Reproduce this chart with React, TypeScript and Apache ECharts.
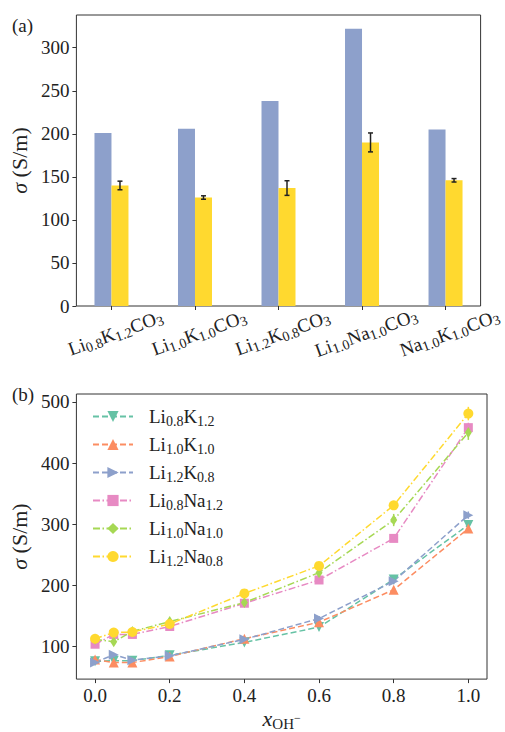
import React, { useEffect, useRef } from 'react';
import * as echarts from 'echarts';

// ---------- Data: panel (a) ----------
const categories = ['Li0.8K1.2CO3', 'Li1.0K1.0CO3', 'Li1.2K0.8CO3', 'Li1.0Na1.0CO3', 'Na1.0K1.0CO3'];
const barBlue = [201, 206, 238, 322, 205];
const barYellow = [140, 126, 137, 190, 146];
const barYellowErr = [5, 2, 8.5, 11, 2];
const yTicksA = [0, 50, 100, 150, 200, 250, 300];

// ---------- Data: panel (b) ----------
const xOH = [0, 0.05, 0.1, 0.2, 0.4, 0.6, 0.8, 1.0];
const seriesNames = ['Li0.8K1.2', 'Li1.0K1.0', 'Li1.2K0.8', 'Li0.8Na1.2', 'Li1.0Na1.0', 'Li1.2Na0.8'];
const sLi08K12 = [76, 77, 77, 86, 107, 132, 210, 299];
const sLi10K10 = [79, 74, 74, 84, 113, 140, 193, 293];
const sLi12K08 = [74, 87, 78, 85, 112, 146, 207, 315];
const sLi08Na12 = [104, 120, 120, 133, 171, 209, 277, 458];
const sLi10Na10 = [112, 108, 125, 141, 172, 221, 307, 450];
const sLi12Na08 = [113, 123, 124, 137, 187, 232, 331, 481];
const eLi08K12 = [3, 3, 3, 3, 4, 5, 5, 8];
const eLi10K10 = [3, 3, 3, 3, 3, 4, 5, 7];
const eLi12K08 = [3, 3, 3, 3, 3, 4, 5, 6];
const eLi08Na12 = [4, 3, 3, 3, 4, 4, 5, 8];
const eLi10Na10 = [5, 5, 4, 4, 6, 10, 10, 12];
const eLi12Na08 = [6, 4, 4, 4, 5, 6, 7, 11];
const xTicksB = [0, 0.2, 0.4, 0.6, 0.8, 1.0];
const yTicksB = [100, 200, 300, 400, 500];

const seriesValues = [sLi08K12, sLi10K10, sLi12K08, sLi08Na12, sLi10Na10, sLi12Na08];
const seriesErrs = [eLi08K12, eLi10K10, eLi12K08, eLi08Na12, eLi10Na10, eLi12Na08];

// ---------- Styles ----------
const FONT = 'Liberation Serif';
const COLORS = ['#66c2a5', '#fc8d62', '#8da0cb', '#e78ac3', '#a6d854', '#ffd92f'];
const SYMBOLS = ['triangle', 'triangle', 'triangle', 'rect', 'diamond', 'circle'];
const SYMROT = [180, 0, -90, 0, 0, 0];
const SYMSIZE: any[] = [10, 10, 10, 9, [7, 11], 10];
const DASH = [6, 3];
const DASHDOT = [7, 2.5, 1.5, 2.5];
const LSTYLE = [DASH, DASH, DASH, DASHDOT, DASHDOT, DASHDOT];
const FRAME = '#333333';
const TXT = '#222222';

const toRich = (s: string) => '{n|' + s.replace(/(\d+(?:\.\d+)?)/g, '}{s|$1}{n|') + '}';

const richText = (size: number, sub: number) => ({
  n: { fontFamily: FONT, fontSize: size, lineHeight: size + 4, color: TXT },
  s: { fontFamily: FONT, fontSize: sub, lineHeight: sub, padding: [9, 0, 0, 0], color: TXT },
});

export default function App() {
  const ref = useRef<HTMLDivElement>(null);
  useEffect(() => {
    if (!ref.current) return;
    const chart = echarts.init(ref.current, undefined, { renderer: 'svg' });

    const errDataB: any[] = [];
    seriesValues.forEach((vals, si) => {
      vals.forEach((v, i) => errDataB.push([xOH[i], v, seriesErrs[si][i], si]));
    });

    const yName = {
      name: '{i|\u03c3} (S/m)', nameLocation: 'middle', nameGap: 42, nameRotate: 90,
      nameTextStyle: {
        rich: { i: { fontFamily: FONT, fontStyle: 'italic', fontSize: 22, color: TXT } },
        fontFamily: FONT, fontSize: 22, color: TXT,
      },
    };

    const option: any = {
      animation: false,
      backgroundColor: '#ffffff',
      textStyle: { fontFamily: FONT },
      grid: [
        { left: 74, right: 18, top: 15, height: 291, show: true, borderColor: FRAME, borderWidth: 1, backgroundColor: 'transparent' },
        { left: 75, right: 18, top: 394, height: 291, show: true, borderColor: FRAME, borderWidth: 1, backgroundColor: 'transparent' },
      ],
      xAxis: [
        {
          type: 'value', gridIndex: 0, min: -0.42, max: 4.42,
          axisLine: { show: false, onZero: false }, splitLine: { show: false },
          axisTick: { show: true, length: 4, lineStyle: { color: FRAME }, customValues: categories.map((_, i) => i) },
          axisLabel: {
            customValues: categories.map((_, i) => i),
            formatter: (v: number) => toRich(categories[Math.round(v)]),
            rotate: 20, align: 'center', verticalAlign: 'top', margin: 16,
            rich: richText(19, 14),
          },
        },
        {
          type: 'value', gridIndex: 1, min: -0.05, max: 1.05,
          axisLine: { show: false, onZero: false }, splitLine: { show: false },
          axisTick: { show: true, length: 4, lineStyle: { color: FRAME }, customValues: xTicksB },
          axisLabel: {
            customValues: xTicksB, formatter: (v: number) => v.toFixed(1),
            fontFamily: FONT, fontSize: 19, color: TXT, margin: 7,
          },
          name: '{i|x}{s|OH}{p|\u2212}', nameLocation: 'middle', nameGap: 26,
          nameTextStyle: {
            rich: {
              i: { fontFamily: FONT, fontStyle: 'italic', fontSize: 22, lineHeight: 22, color: TXT },
              s: { fontFamily: FONT, fontSize: 15, lineHeight: 15, padding: [10, 0, 0, 0], color: TXT },
              p: { fontFamily: FONT, fontSize: 12, lineHeight: 12, padding: [0, 0, 2, 0], color: TXT },
            },
          },
        },
      ],
      yAxis: [
        {
          type: 'value', gridIndex: 0, min: 0, max: 338,
          axisLine: { show: false, onZero: false }, splitLine: { show: false },
          axisTick: { show: true, length: 4, lineStyle: { color: FRAME }, customValues: yTicksA },
          axisLabel: { customValues: yTicksA, fontFamily: FONT, fontSize: 19, color: TXT, margin: 7 },
          ...yName,
        },
        {
          type: 'value', gridIndex: 1, min: 47, max: 513,
          axisLine: { show: false, onZero: false }, splitLine: { show: false },
          axisTick: { show: true, length: 4, lineStyle: { color: FRAME }, customValues: yTicksB },
          axisLabel: { customValues: yTicksB, fontFamily: FONT, fontSize: 19, color: TXT, margin: 7 },
          ...yName,
        },
      ],
      legend: {
        orient: 'vertical', left: 92, top: 405, padding: 0, itemWidth: 40, itemHeight: 14, itemGap: 5,
        data: seriesNames,
        formatter: (name: string) => '{g|}' + toRich(name),
        textStyle: {
          rich: {
            g: { width: 11 },
            ...richText(19, 14),
          },
        },
      },
      graphic: [
        { type: 'text', left: 12, top: 16, style: { text: '(a)', fontFamily: FONT, fontSize: 19, fill: TXT } },
        { type: 'text', left: 12, top: 385, style: { text: '(b)', fontFamily: FONT, fontSize: 19, fill: TXT } },
      ],
      series: [
        {
          type: 'bar', xAxisIndex: 0, yAxisIndex: 0, barWidth: 17, barGap: '0%',
          itemStyle: { color: '#8da0cb' },
          data: barBlue.map((v, i) => [i, v]),
        },
        {
          type: 'bar', xAxisIndex: 0, yAxisIndex: 0, barWidth: 17, barGap: '0%',
          itemStyle: { color: '#ffd92f' },
          data: barYellow.map((v, i) => [i, v]),
        },
        {
          type: 'custom', xAxisIndex: 0, yAxisIndex: 0, z: 5,
          data: barYellow.map((v, i) => [i, v, barYellowErr[i]]),
          renderItem: (params: any, api: any) => {
            const x = api.value(0), y = api.value(1), e = api.value(2);
            const lo = api.coord([x, y - e]);
            const hi = api.coord([x, y + e]);
            const cx = lo[0] + 8.5;
            const st = { stroke: '#222', lineWidth: 1.5 };
            return {
              type: 'group',
              children: [
                { type: 'line', shape: { x1: cx, y1: lo[1], x2: cx, y2: hi[1] }, style: st },
                { type: 'line', shape: { x1: cx - 2.5, y1: lo[1], x2: cx + 2.5, y2: lo[1] }, style: st },
                { type: 'line', shape: { x1: cx - 2.5, y1: hi[1], x2: cx + 2.5, y2: hi[1] }, style: st },
              ],
            };
          },
        },
        {
          type: 'custom', xAxisIndex: 1, yAxisIndex: 1, z: 1,
          data: errDataB,
          renderItem: (params: any, api: any) => {
            const x = api.value(0), y = api.value(1), e = api.value(2), si = api.value(3);
            const lo = api.coord([x, y - e]);
            const hi = api.coord([x, y + e]);
            return {
              type: 'line',
              shape: { x1: lo[0], y1: lo[1], x2: hi[0], y2: hi[1] },
              style: { stroke: COLORS[si], lineWidth: 1.5 },
            };
          },
        },
        ...seriesNames.map((name, si) => ({
          type: 'line', name, xAxisIndex: 1, yAxisIndex: 1, z: 3,
          data: seriesValues[si].map((v, i) => [xOH[i], v]),
          symbol: SYMBOLS[si], symbolRotate: SYMROT[si], symbolSize: SYMSIZE[si],
          showAllSymbol: true,
          itemStyle: { color: COLORS[si], borderWidth: 0 },
          lineStyle: { color: COLORS[si], width: 1.5, type: LSTYLE[si] },
        })),
      ],
    };

    chart.setOption(option);
    return () => chart.dispose();
  }, []);

  return <div ref={ref} style={{ position: 'fixed', left: 0, top: 0, width: 505, height: 732 }} />;
}
